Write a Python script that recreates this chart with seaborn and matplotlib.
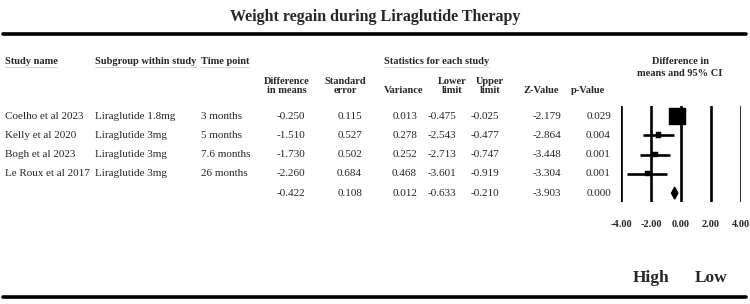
import matplotlib
matplotlib.use('Agg')
import matplotlib.pyplot as plt
from matplotlib.lines import Line2D
from matplotlib import transforms
import numpy as np
import pandas as pd
import seaborn as sns

sns.set_style('white')
plt.rcParams['font.family'] = ['Liberation Serif', 'DejaVu Serif']

# data
studies = ['Coelho et al 2023', 'Kelly et al 2020', 'Bogh et al 2023', 'Le Roux et al 2017', '']
subgroups = ['Liraglutide 1.8mg', 'Liraglutide 3mg', 'Liraglutide 3mg', 'Liraglutide 3mg', '']
timepoints = ['3 months', '5 months', '7.6 months', '26 months', '']
diff = [-0.250, -1.510, -1.730, -2.260, -0.422]
se = [0.115, 0.527, 0.502, 0.684, 0.108]
variance = [0.013, 0.278, 0.252, 0.468, 0.012]
lower = [-0.475, -2.543, -2.713, -3.601, -0.633]
upper = [-0.025, -0.477, -0.747, -0.919, -0.210]
zval = [-2.179, -2.864, -3.448, -3.304, -3.903]
pval = [0.029, 0.004, 0.001, 0.001, 0.000]
xticks = [-4, -2, 0, 2, 4]

df = pd.DataFrame({'study': studies, 'subgroup': subgroups, 'time': timepoints,
                   'diff': diff, 'se': se, 'var': variance, 'lower': lower,
                   'upper': upper, 'z': zval, 'p': pval})
df['row'] = np.arange(len(df))
df['weight'] = 1 / df['var']

W, H = 750, 304
fig = plt.figure(figsize=(W / 100, H / 100), dpi=100)


def fx(x):
    return x / W


def fy(y):
    return 1 - y / H


# forest panel
ax = fig.add_axes([fx(621), fy(202), fx(120), (202 - 106) / H])
ax.set_xlim(-4, 4)
ax.set_ylim(4.46, -0.52)
for v in xticks:
    ax.axvline(v, color='black', lw=1.9, zorder=1)

studies_df = df.iloc[:4]
ax.hlines(studies_df['row'], studies_df['lower'], studies_df['upper'],
          color='black', lw=1.9, zorder=2, clip_on=False)
sns.scatterplot(data=studies_df, x='diff', y='row', size='weight', sizes=(14, 150),
                marker='s', color='black', edgecolor='black', legend=False,
                ax=ax, zorder=3, clip_on=False)
summ = df.iloc[4]
ax.fill([summ['lower'], summ['diff'], summ['upper'], summ['diff']],
        [summ['row'], summ['row'] - 0.31, summ['row'], summ['row'] + 0.31],
        color='black', zorder=3, clip_on=False)

ax.set_xticks(xticks)
ax.set_xticklabels([f'{v:.2f}' for v in xticks], fontweight='bold', fontsize=7.5)
ax.tick_params(axis='x', length=0, pad=13)
ax.set_yticks([])
ax.set_xlabel('')
ax.set_ylabel('')
for s in ax.spines.values():
    s.set_visible(False)
ax.patch.set_alpha(0)

lab_tr = transforms.blended_transform_factory(ax.transData, fig.transFigure)
ax.text(-2, fy(278), 'High', transform=lab_tr, ha='center', va='center',
        fontsize=12.5, fontweight='bold')
ax.text(2, fy(278), 'Low', transform=lab_tr, ha='center', va='center',
        fontsize=12.5, fontweight='bold')

# title and rules
fig.text(0.5, fy(17), 'Weight regain during Liraglutide Therapy', ha='center',
         va='center', fontsize=11.5, fontweight='bold')
fig.add_artist(Line2D([fx(3), fx(746)], [fy(34), fy(34)], color='black', lw=2.6))
fig.add_artist(Line2D([fx(3), fx(746)], [fy(297), fy(297)], color='black', lw=2.6))

# headers
hdr = dict(fontsize=7.5, fontweight='bold', va='center')
top_headers = [(5, 'Study name', 'left'), (95, 'Subgroup within study', 'left'),
               (201, 'Time point', 'left'), (437, 'Statistics for each study', 'center')]
for x, t, ha in top_headers:
    fig.text(fx(x), fy(61), t, ha=ha, **hdr)
fig.text(fx(680), fy(61), 'Difference in', ha='center', **hdr)
fig.text(fx(680), fy(74), 'means and 95% CI', ha='center', **hdr)

# faint underlines under the top headers
for x0, x1 in [(5, 57), (95, 196), (201, 249), (385, 489)]:
    fig.add_artist(Line2D([fx(x0), fx(x1)], [fy(67), fy(67)], color='#d0d0d0', lw=0.6))

sub_headers = [(287, 'Difference\nin means'), (345, 'Standard\nerror'), (404, '\nVariance'),
               (452, 'Lower\nlimit'), (490, 'Upper\nlimit'), (541, '\nZ-Value'),
               (588, '\np-Value')]
for x, t in sub_headers:
    fig.text(fx(x), fy(86), t, ha='center', linespacing=1.1, **hdr)

# table body
row_tr = transforms.blended_transform_factory(fig.transFigure, ax.transData)
body = dict(fontsize=8, va='center', transform=row_tr)
text_cols = [('study', 5), ('subgroup', 95), ('time', 201)]
num_cols = [('diff', 305), ('se', 362), ('var', 417), ('lower', 456), ('upper', 499),
            ('z', 561), ('p', 611)]
for _, r in df.iterrows():
    for c, x in text_cols:
        fig.text(fx(x), r['row'], r[c], ha='left', **body)
    for c, x in num_cols:
        fig.text(fx(x), r['row'], f'{r[c]:.3f}', ha='right', **body)

fig.savefig('out.png', dpi=100)
